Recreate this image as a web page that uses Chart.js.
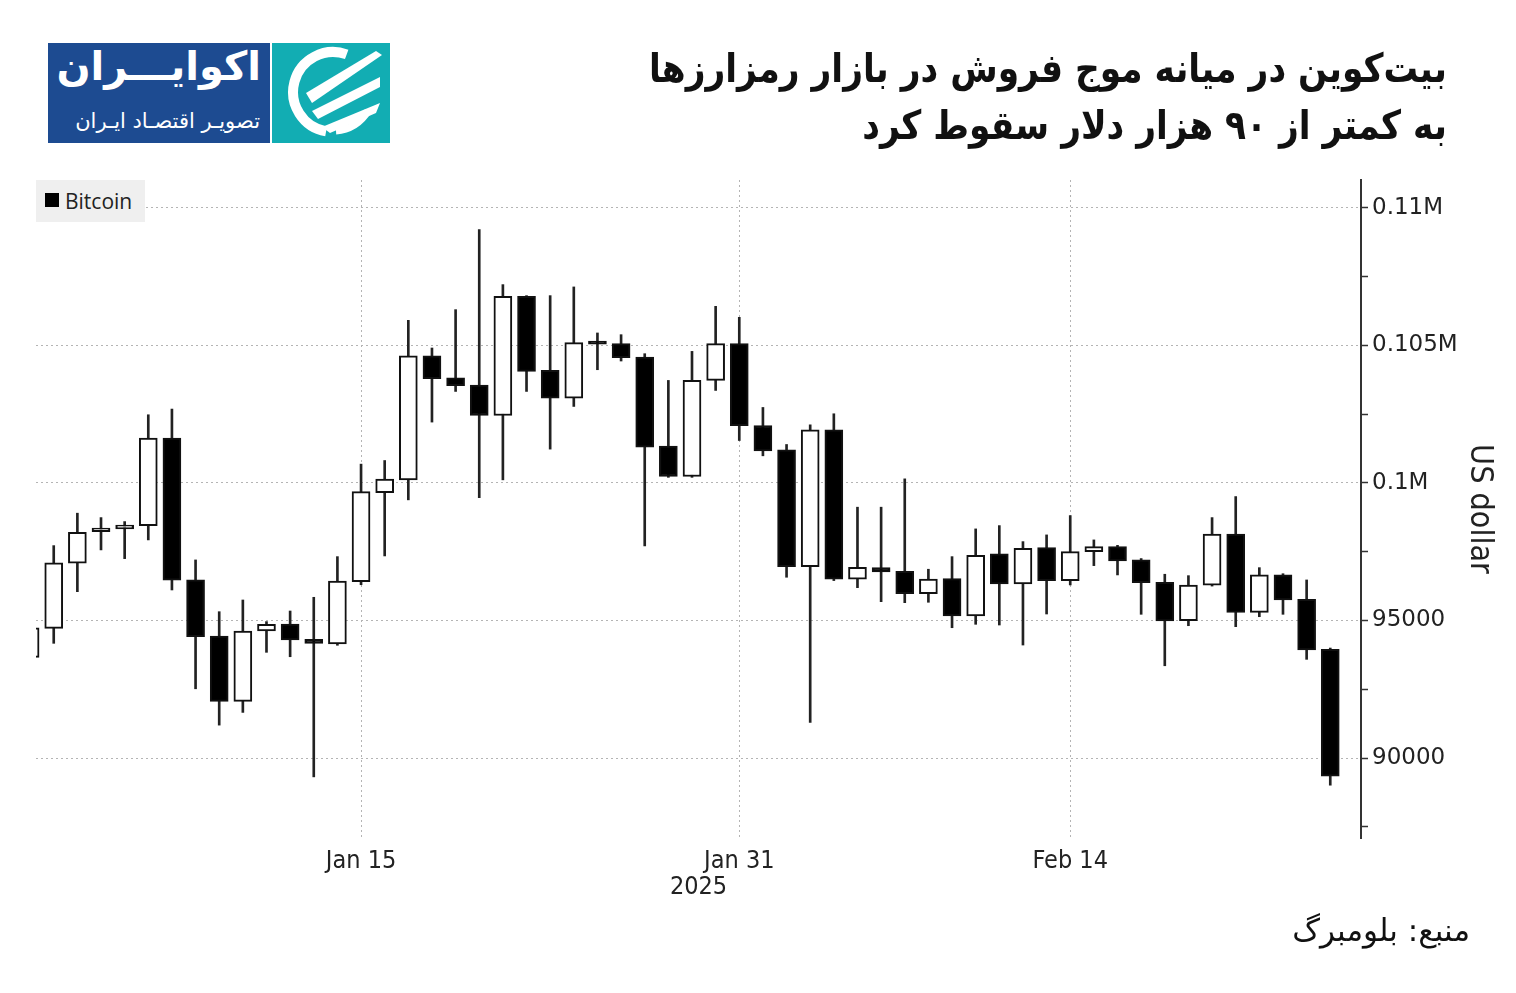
<!DOCTYPE html>
<html lang="fa">
<head>
<meta charset="utf-8">
<title>Bitcoin</title>
<script src="https://cdn.jsdelivr.net/npm/chart.js@4.4.1/dist/chart.umd.min.js"></script>
<style>
    html, body { margin: 0; padding: 0; background: #fff; }
    #page { position: relative; width: 1516px; height: 993px; overflow: hidden; background: #fff; }
    #chart { position: absolute; left: 0; top: 0; }
    .logo { position: absolute; left: 48px; top: 43px; width: 342px; height: 100px; display: flex; }
    .logo-blue { position: relative; width: 222px; height: 100px; background: #1d4b91; overflow: hidden; }
    .logo-teal { width: 120px; height: 100px; background: #12adb3; border-left: 2px solid #fff; box-sizing: border-box; }
    .logo-name { position: absolute; right: 9px; top: 0; color: #fff; font: bold 40px "DejaVu Sans", sans-serif; direction: rtl; white-space: nowrap; }
    .logo-sub { position: absolute; right: 10px; top: 66px; color: #fff; font: 21px "DejaVu Sans", sans-serif; direction: rtl; white-space: nowrap; }
    .title { position: absolute; right: 69px; top: 40px; color: #111; font: bold 40px "DejaVu Sans", sans-serif; line-height: 57px; direction: rtl; text-align: right; white-space: nowrap; transform: scaleX(0.86); transform-origin: right center; }
    .legend { position: absolute; left: 36px; top: 180px; width: 109px; height: 42px; background: #efefef; }
    .legend i { position: absolute; left: 9px; top: 13px; width: 14px; height: 14px; background: #000; }
    .legend span { position: absolute; left: 29px; top: 0; font: 21px "Open Sans", sans-serif; line-height: 42px; color: #222; }
    .source { position: absolute; right: 46px; top: 910px; font: 31px "DejaVu Sans", sans-serif; line-height: 40px; color: #111; direction: rtl; }
</style>
</head>
<body>
<div id="page">
    <canvas id="chart" width="1516" height="993"></canvas>

    <div class="logo">
        <div class="logo-blue">
            <div class="logo-name">اکوایـــران</div>
            <div class="logo-sub">تصویـر اقتصـاد ایـران</div>
        </div>
        <div class="logo-teal">
            <svg width="118" height="100" viewBox="0 0 118 100">
                <path d="M 74.7 11.4 A 40 40 0 1 0 54.1 88.4" stroke="#fff" stroke-width="10" fill="none"/>
                <path d="M 64 88 A 40 40 0 0 0 96 68" stroke="#fff" stroke-width="7" fill="none"/>
                <g fill="#fff">
                    <polygon points="34,50 104,8 110,12 40,60"/>
                    <polygon points="40,68 108,34 108,44 46,76"/>
                    <polygon points="50,84 108,60 104,70 58,90"/>
                </g>
            </svg>
        </div>
    </div>

    <div class="title">بیت‌کوین در میانه موج فروش در بازار رمزارزها<br>به کمتر از ۹۰ هزار دلار سقوط کرد</div>

    <div class="legend"><i></i><span>Bitcoin</span></div>

    <div class="source">منبع: بلومبرگ</div>
</div>

<script>
// daily candles, Jan 1 – Feb 25 2025 (index 0 = Jan 1)
const openPrices = [93662, 94716, 97080, 98230, 98330, 98447, 101625, 96473, 94436, 92062,
    94618, 94873, 94316, 94145, 96411, 99647, 100109, 104618, 103818, 103553,
    102447, 106775, 104084, 103080, 105091, 105055, 104571, 101335, 100229, 103720,
    105055, 102084, 101200, 96956, 101927, 96498, 96923, 96789, 95975, 96520,
    95164, 97418, 96327, 97647, 96447, 97502, 97684, 97200, 96389, 94993,
    96280, 98135, 95298, 96655, 95770, 93953];
const highPrices = [95100, 97720, 98898, 98738, 98593, 102473, 102680, 97200, 95320, 95745,
    94960, 95345, 95843, 97320, 100680, 100811, 105902, 104898, 106291, 109200,
    107200, 106800, 106800, 107116, 105444, 105382, 104691, 103720, 104775, 106411,
    106011, 102738, 101393, 102109, 102509, 99116, 99116, 100145, 96862, 97320,
    98327, 98447, 97865, 98109, 98811, 97927, 97730, 97250, 96680, 96629,
    98738, 99502, 96920, 96700, 96473, 94000];
const lowPrices = [93400, 94171, 96047, 97564, 97247, 97927, 96109, 92520, 91200, 91662,
    93844, 93684, 89320, 94100, 96300, 97345, 99382, 102207, 103320, 99465,
    100109, 103320, 101225, 102775, 104109, 104425, 97709, 100200, 100200, 103356,
    101538, 100982, 96571, 91298, 96450, 96193, 95684, 95647, 95662, 94738,
    94862, 94836, 94109, 95236, 96291, 96993, 96655, 95225, 93356, 94811,
    96250, 94775, 95138, 95225, 93589, 89018];
const closePrices = [94738, 97091, 98207, 98360, 98470, 101625, 96462, 94411, 92062, 94618,
    94862, 94291, 94171, 96436, 99684, 100135, 104618, 103782, 103527, 102447,
    106775, 104047, 103080, 105091, 105040, 104545, 101298, 100229, 103720, 105055,
    102073, 101164, 96956, 101927, 96498, 96935, 96764, 95975, 96509, 95164,
    97371, 96327, 97625, 96447, 97502, 97684, 97164, 96375, 94982, 96291,
    98135, 95298, 96655, 95745, 93927, 89345];

const dateTicks = [14, 30, 44];
const dateTickLabels = ['Jan 15', 'Jan 31', 'Feb 14'];
const priceTicks = [90000, 95000, 100000, 105000, 110000];
const priceTickLabels = ['90000', '95000', '0.1M', '0.105M', '0.11M'];
const minorPriceTicks = [87500, 92500, 97500, 102500, 107500];

const narrowFont = '"Liberation Sans Narrow", "DejaVu Sans Condensed", "Arial Narrow", sans-serif';

const bodies = openPrices.map((o, i) => ({ x: i, y: [o, closePrices[i]] }));
const wicks = lowPrices.map((l, i) => ({ x: i, y: [l, highPrices[i]] }));

const isUp = i => closePrices[i] >= openPrices[i];

new Chart(document.getElementById('chart'), {
    type: 'bar',
    data: {
        datasets: [{
            label: 'Bitcoin',
            data: bodies,
            grouped: false,
            order: 0,
            clip: 0,
            barThickness: 18,
            minBarLength: 3,
            borderWidth: 2,
            borderSkipped: false,
            borderColor: '#111',
            backgroundColor: ctx => isUp(ctx.dataIndex) ? '#fff' : '#000'
        }, {
            label: 'range',
            data: wicks,
            grouped: false,
            order: 1,
            clip: 0,
            barThickness: 2,
            borderWidth: 0,
            backgroundColor: '#222'
        }]
    },
    options: {
        responsive: false,
        animation: false,
        layout: { padding: { left: 36, top: 180, right: 15, bottom: 85 } },
        plugins: {
            legend: { display: false },
            tooltip: { enabled: false }
        },
        scales: {
            x: {
                type: 'linear',
                min: 0.25,
                max: 56.3,
                offset: false,
                grid: { offset: false, color: '#b4b4b4', drawTicks: false },
                border: { display: false, dash: [2, 3] },
                afterBuildTicks: axis => { axis.ticks = dateTicks.map(v => ({ value: v })); },
                afterFit: axis => { axis.height = 70; },
                ticks: {
                    padding: 8,
                    color: '#222',
                    maxRotation: 0,
                    autoSkip: false,
                    font: { family: narrowFont, size: 25 },
                    callback: v => dateTickLabels[dateTicks.indexOf(v)] || ''
                },
                title: {
                    display: true,
                    text: '2025',
                    color: '#222',
                    font: { family: narrowFont, size: 25 },
                    padding: { top: 0, bottom: 6 }
                }
            },
            y: {
                position: 'right',
                min: 87100,
                max: 111000,
                afterBuildTicks: axis => {
                    axis.ticks = priceTicks.concat(minorPriceTicks)
                        .sort((a, b) => a - b)
                        .map(v => ({ value: v }));
                },
                afterFit: axis => { axis.width = 140; },
                grid: {
                    color: c => (c.tick && priceTicks.includes(c.tick.value)) ? '#b4b4b4' : 'rgba(0,0,0,0)',
                    tickColor: '#333',
                    tickLength: 7,
                    tickWidth: 1.5
                },
                border: { display: true, color: '#333', width: 2, dash: [2, 3] },
                ticks: {
                    padding: 4,
                    color: '#222',
                    autoSkip: false,
                    font: { family: '"DejaVu Sans", sans-serif', size: 23 },
                    callback: v => {
                        const k = priceTicks.indexOf(v);
                        return k >= 0 ? priceTickLabels[k] : '';
                    }
                },
                title: {
                    display: true,
                    text: 'US dollar',
                    color: '#222',
                    font: { family: narrowFont, size: 32 },
                    padding: { top: 2 }
                }
            }
        }
    }
});
</script>
</body>
</html>
